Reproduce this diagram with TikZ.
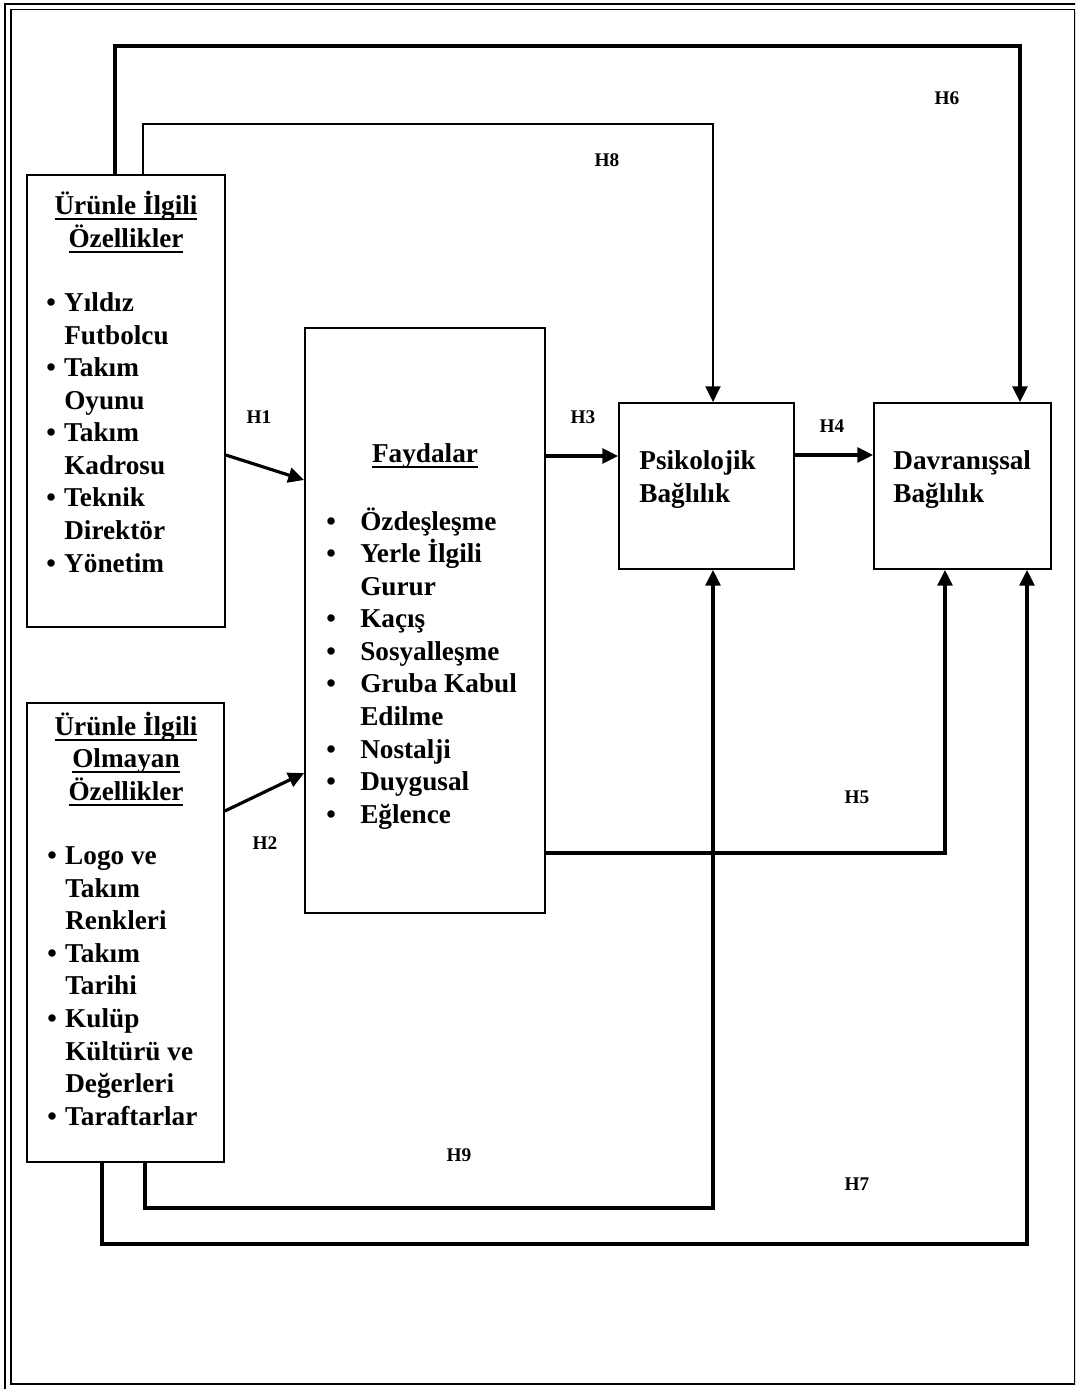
\documentclass[tikz,border=0pt]{standalone}
\usepackage{fontspec}
\setmainfont{Liberation Serif}
\usetikzlibrary{arrows.meta,fit}
\newcommand{\blt}{\makebox[10.2pt][l]{\textbullet}}
\newcommand{\ind}{\hspace*{10.2pt}}
\newcommand{\bltw}{\makebox[19.3pt][l]{\textbullet}}
\newcommand{\indw}{\hspace*{19.3pt}}
\newcommand{\ul}[1]{\setbox0\hbox{#1}\rlap{\raisebox{-3.3pt}{\rule{\wd0}{1.3pt}}}\box0}
\begin{document}
\begin{tikzpicture}[x=0.02cm,y=-0.02cm,
box/.style={draw,line width=1pt,inner sep=0pt},
txt/.style={font=\fontsize{15.5}{18.5}\selectfont\bfseries,inner sep=0pt,align=left},
hdr/.style={txt,align=center},
lbl/.style={font=\fontsize{11}{13}\selectfont\bfseries,inner sep=0pt},
conn/.style={line width=1.8pt,-{Triangle[length=9pt,width=8.5pt]}}]
\useasboundingbox (0,0) rectangle (1075,1389);
\clip (0,0) rectangle (1075,1389);
\draw[line width=1.3pt] (5,4) rectangle (1082,1393);
\draw[line width=0.8pt] (11,9.5) rectangle (1075,1384);

\node[box,fit={(27,175) (225,627)}] (urun) {};
\node[box,fit={(27,703) (224,1162)}] (olmayan) {};
\node[box,fit={(305,328) (545,913)}] (fayda) {};
\node[box,fit={(619,403) (794,569)}] (psik) {};
\node[box,fit={(874,403) (1051,569)}] (davr) {};

% anchor=base is the baseline of the last line
\node[hdr,anchor=base] (urunBaslik) at (126,247) {\ul{Ürünle İlgili}\\\ul{Özellikler}};
\node[txt,anchor=base west] (urunListe) at (46,572) {\blt Yıldız\\\ind Futbolcu\\\blt Takım\\\ind Oyunu\\\blt Takım\\\ind Kadrosu\\\blt Teknik\\\ind Direktör\\\blt Yönetim};
\node[hdr,anchor=base] (olmayanBaslik) at (126,800) {\ul{Ürünle İlgili}\\\ul{Olmayan}\\\ul{Özellikler}};
\node[txt,anchor=base west] (olmayanListe) at (47,1125) {\blt Logo ve\\\ind Takım\\\ind Renkleri\\\blt Takım\\\ind Tarihi\\\blt Kulüp\\\ind Kültürü ve\\\ind Değerleri\\\blt Taraftarlar};
\node[hdr,anchor=base] (faydaBaslik) at (425,462) {\ul{Faydalar}};
\node[txt,anchor=base west] (faydaListe) at (326,823) {\bltw Özdeşleşme\\\bltw Yerle İlgili\\\indw Gurur\\\bltw Kaçış\\\bltw Sosyalleşme\\\bltw Gruba Kabul\\\indw Edilme\\\bltw Nostalji\\\bltw Duygusal\\\bltw Eğlence};
\node[txt,anchor=base west] (psikYazi) at (639,502) {Psikolojik\\Bağlılık};
\node[txt,anchor=base west] (davrYazi) at (893,502) {Davranışsal\\Bağlılık};

\coordinate (h6) at (1020,46);
\coordinate (h8) at (713,124);
\coordinate (h5) at (945,853);
\coordinate (h9) at (713,1208);
\coordinate (h7) at (1027,1244);
\draw[conn] (urun.north -| 115,0) |- (h6) -- (h6 |- davr.north);
\draw[conn,line width=1.4pt] (urun.north -| 143,0) |- (h8) -- (h8 |- psik.north);
\draw[conn] (urun.east |- 0,455) -- (fayda.west |- 0,480);
\draw[conn] (olmayan.east |- 0,811) -- (fayda.west |- 0,773);
\draw[conn] (fayda.east |- 0,456) -- (psik.west |- 0,456);
\draw[conn] (psik.east |- 0,455) -- (davr.west |- 0,455);
\draw[conn] (fayda.east |- h5) -- (h5) -- (h5 |- davr.south);
\draw[conn] (olmayan.south -| 145,0) |- (h9) -- (h9 |- psik.south);
\draw[conn] (olmayan.south -| 102,0) |- (h7) -- (h7 |- davr.south);

\node[lbl] (lH1) at (259,417) {H1};
\node[lbl] (lH2) at (265,843) {H2};
\node[lbl] (lH3) at (583,417) {H3};
\node[lbl] (lH4) at (832,426) {H4};
\node[lbl] (lH5) at (857,797) {H5};
\node[lbl] (lH6) at (947,98) {H6};
\node[lbl] (lH7) at (857,1184) {H7};
\node[lbl] (lH8) at (607,160) {H8};
\node[lbl] (lH9) at (459,1155) {H9};
\end{tikzpicture}
\end{document}
